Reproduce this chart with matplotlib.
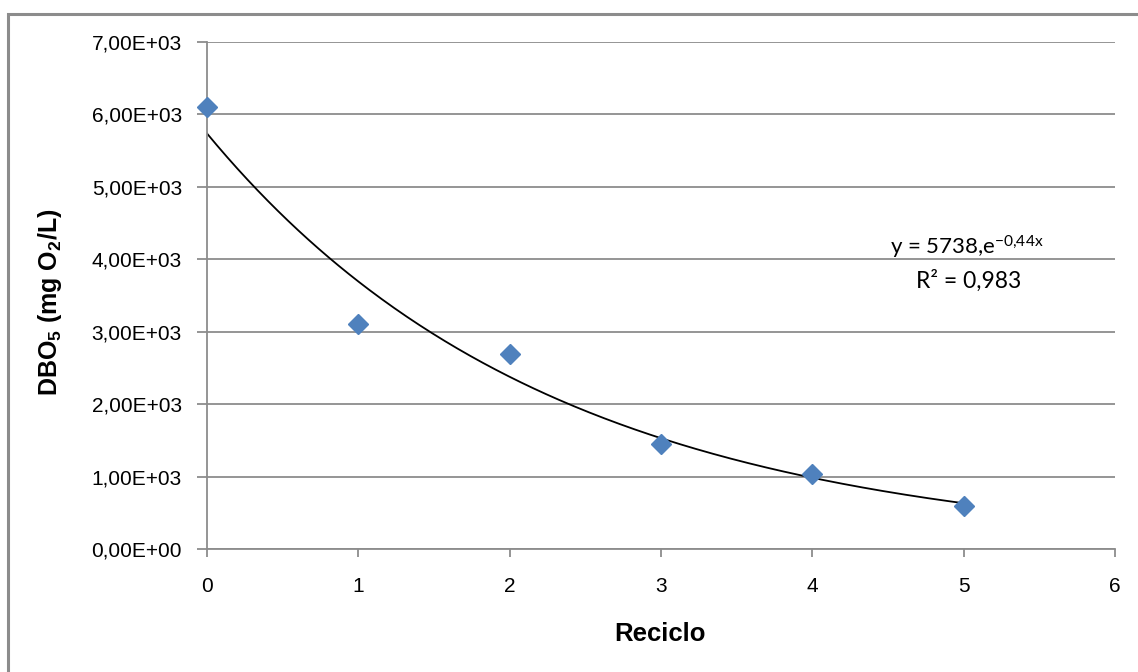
import numpy as np
import matplotlib
matplotlib.use("Agg")
import matplotlib.pyplot as plt
from matplotlib.patches import Rectangle
from matplotlib.ticker import FuncFormatter

plt.rcParams["mathtext.default"] = "regular"

# Measured DBO5 per recycling cycle
reciclo = [0, 1, 2, 3, 4, 5]
dbo5 = [6100, 3110, 2700, 1450, 1035, 600]

# Exponential trendline coefficients as reported
fit_a = 5738
fit_b = -0.44
fit_r2 = "0,983"

y_ticks = [0, 1000, 2000, 3000, 4000, 5000, 6000, 7000]
x_ticks = [0, 1, 2, 3, 4, 5, 6]

W, H = 1138, 672
fig = plt.figure(figsize=(W / 100, H / 100), dpi=100)
fig.patch.set_facecolor("white")

# Chart-area border
fig.add_artist(Rectangle((8 / W, -0.05), 1.2, 1 - 14 / H + 0.05,
                         transform=fig.transFigure, fill=False,
                         edgecolor="#8c8c8c", linewidth=2.2))

ax = fig.add_axes([207 / W, 1 - 549.3 / H, (1115 - 207) / W, (549.3 - 42) / H])

grid_c = "#8c8c8c"
ax.set_xlim(0, 6)
ax.set_ylim(0, 7000)
ax.set_yticks(y_ticks)
ax.set_xticks(x_ticks)
ax.grid(axis="y", color=grid_c, linewidth=1.3)
ax.set_axisbelow(True)
for s in ("top", "right"):
    ax.spines[s].set_visible(False)
for s in ("left", "bottom"):
    ax.spines[s].set_color(grid_c)
    ax.spines[s].set_linewidth(1.3)

def sci_comma(v, pos):
    if v == 0:
        return "0,00E+00"
    e = int(np.floor(np.log10(abs(v))))
    m = v / 10 ** e
    return f"{m:.2f}".replace(".", ",") + f"E+{e:02d}"

ax.yaxis.set_major_formatter(FuncFormatter(sci_comma))
ax.tick_params(axis="both", direction="out", color=grid_c, width=1.3,
               labelsize=15, labelcolor="black")
ax.tick_params(axis="y", length=7, pad=11)
ax.tick_params(axis="x", length=6, pad=14)
for lab in ax.get_xticklabels() + ax.get_yticklabels():
    lab.set_fontfamily("Liberation Sans")

# Trendline
xs = np.linspace(min(reciclo), max(reciclo), 300)
ax.plot(xs, fit_a * np.exp(fit_b * xs), color="black", linewidth=1.3, zorder=2)

# Data points
ax.plot(reciclo, dbo5, linestyle="none", marker="D", markersize=9.8,
        color="#4f81bd", markeredgecolor="#4f81bd", zorder=3, clip_on=False)

# Trendline equation
b_txt = f"{fit_b:.2f}".replace(".", "{,}")
ax.text(967 / W, 1 - 247 / H, f"y = {fit_a},e$^{{{b_txt}x}}$",
        transform=fig.transFigure, ha="center", va="center",
        fontsize=16, family="Lato")
ax.text(969 / W, 1 - 281 / H, f"R\u00b2 = {fit_r2}",
        transform=fig.transFigure, ha="center", va="center",
        fontsize=16.5, family="Lato")

fig.text(660 / W, 1 - 634 / H, "Reciclo", ha="center", va="center",
         fontsize=18.5, fontweight="bold", family="Liberation Sans")
fig.text(50 / W, 1 - 302 / H, "DBO$_5$ (mg O$_2$/L)", ha="center", va="center",
         rotation=90, fontsize=18, fontweight="bold", family="Liberation Sans")

fig.savefig("out.png", dpi=100)
